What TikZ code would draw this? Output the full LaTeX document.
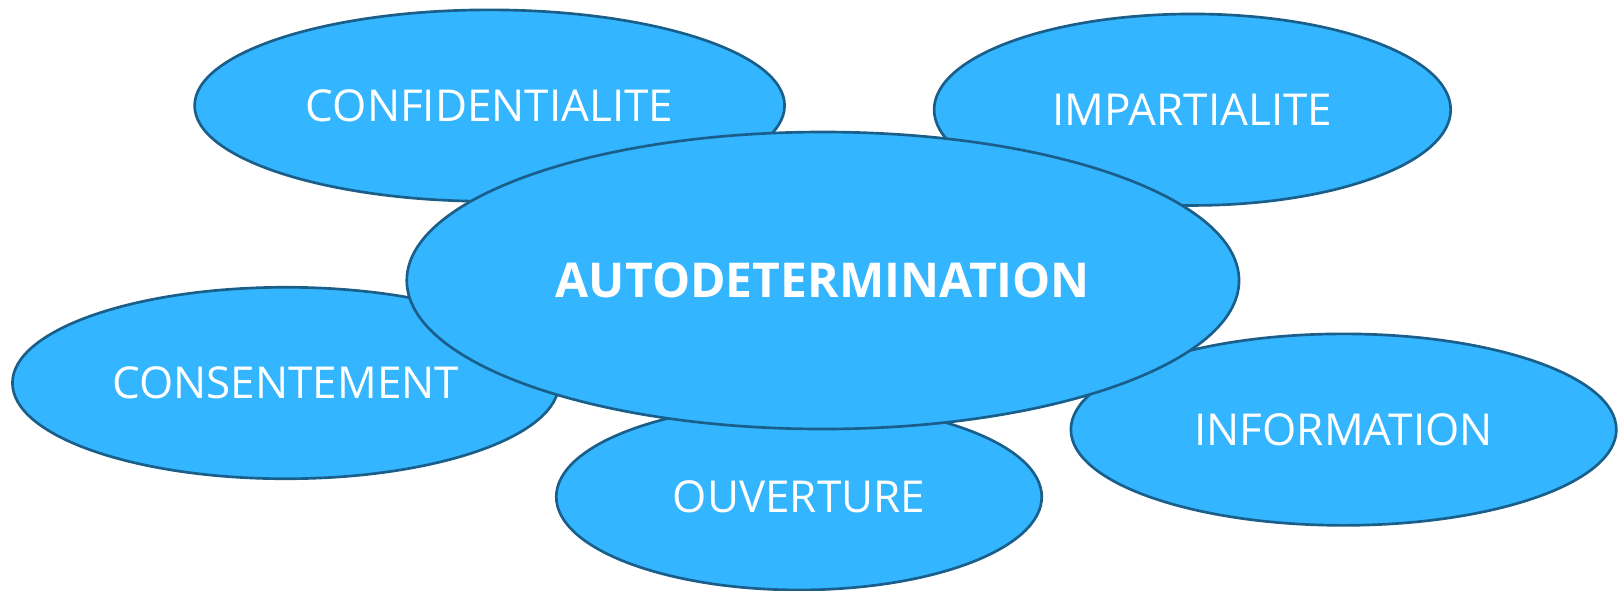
\documentclass[tikz,border=0pt]{standalone}
\usepackage{fontspec}
\setmainfont{Open Sans}
\usetikzlibrary{shapes.geometric}

\definecolor{bulleFill}{RGB}{51,181,255}
\definecolor{bulleDraw}{RGB}{26,94,138}

\tikzset{every picture/.style={line width=0.75pt}}
\tikzset{
  bulle/.style={ellipse, draw=bulleDraw, fill=bulleFill, line width=2pt, inner sep=0pt,
    text=white, font=\fontsize{33}{40}\selectfont},
  centre/.style={bulle, font=\fontsize{36}{42}\selectfont\bfseries}
}

\begin{document}
\begin{tikzpicture}[x=0.75pt,y=0.75pt,yscale=-1,xscale=1]
    \useasboundingbox (0,0) rectangle (1623,590);

    % Ellipses autour
    \node [bulle, minimum width=442.5pt, minimum height=143.6pt] (confid) at (489.6,105.6) {CONFIDENTIALITE};
    \node [bulle, minimum width=387.4pt, minimum height=143.6pt] (impart) at (1192.4,109.7) {IMPARTIALITE};
    \node [bulle, minimum width=409.9pt, minimum height=143.6pt] (consent) at (285.7,383) {CONSENTEMENT};
    \node [bulle, minimum width=409.1pt, minimum height=143.6pt] (inform) at (1343.6,429.6) {INFORMATION};
    \node [bulle, minimum width=364.1pt, minimum height=139.7pt] (ouvert) at (799,496.8) {OUVERTURE};

    % Ellipse centrale
    \node [centre, minimum width=624.2pt, minimum height=222.75pt] (autodet) at (822.9,280.5) {AUTODETERMINATION};

\end{tikzpicture}
\end{document}
